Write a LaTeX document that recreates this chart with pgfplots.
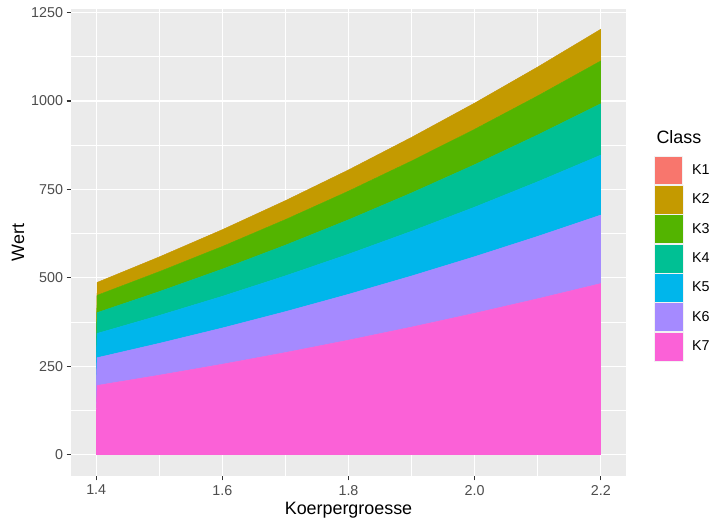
\documentclass[border=0pt]{standalone}
\usepackage{pgfplots}
\usepackage{pgfplotstable}
\pgfplotsset{compat=1.18}
\usepackage{fontspec}
\setmainfont{Liberation Sans}
\definecolor{k1}{HTML}{F8766D}
\definecolor{k2}{HTML}{C49A00}
\definecolor{k3}{HTML}{53B400}
\definecolor{k4}{HTML}{00C094}
\definecolor{k5}{HTML}{00B6EB}
\definecolor{k6}{HTML}{A58AFF}
\definecolor{k7}{HTML}{FB61D7}
\definecolor{panelbg}{HTML}{EBEBEB}
\definecolor{keybg}{HTML}{F2F2F2}
\definecolor{ticklab}{HTML}{4D4D4D}
\definecolor{tickcol}{HTML}{333333}
\pgfplotstableread{
x      K7    K6     K5     K4     K3     K2    K1
1.4    127   80     62     5      26     24    0
1.4015 196   78.4   68.6   58.8   49     36.3  0
1.5    225   90     78.8   67.5   56.3   41.6  0
1.6    256   102.4  89.6   76.8   64     47.4  0
1.7    289   115.6  101.2  86.7   72.3   53.5  0
1.8    324   129.6  113.4  97.2   81     59.9  0
1.9    361   144.4  126.4  108.3  90.3   66.8  0
2.0    400   160    140    120    100    74    0
2.1    441   176.4  154.4  132.3  110.3  81.6  0
2.2    484   193.6  169.4  145.2  121    89.5  0
}\data
\begin{document}
\begin{tikzpicture}
\path[fill=white] (0,0) rectangle (728pt,530pt);
\begin{axis}[
  at={(71pt,54pt)}, anchor=south west,
  scale only axis, width=555pt, height=467pt,
  xmin=1.36, xmax=2.24, ymin=-60, ymax=1260,
  axis background/.style={fill=panelbg},
  axis line style={draw=none},
  xtick={1.4,1.6,1.8,2.0,2.2},
  minor xtick={1.5,1.7,1.9,2.1},
  ytick={0,250,500,750,1000,1250},
  minor ytick={125,375,625,875,1125},
  grid=both,
  major grid style={white, line width=1.1pt},
  minor grid style={white, line width=0.55pt},
  tick pos=left, tick align=outside,
  major tick length=4.5pt, minor tick length=0pt,
  every tick/.style={tickcol, line width=1.1pt},
  /pgf/number format/assume math mode=true,
  xticklabel style={font=\fontsize{14.3}{17}\selectfont, text=ticklab, yshift=-1pt, /pgf/number format/fixed, /pgf/number format/fixed zerofill, /pgf/number format/precision=1},
  yticklabel style={font=\fontsize{14.3}{17}\selectfont, text=ticklab, /pgf/number format/set thousands separator={}},
  xlabel={Koerpergroesse}, ylabel={Wert},
  xlabel style={font=\fontsize{17.9}{21}\selectfont, at={(axis description cs:0.5,-0.0728)}, anchor=center},
  ylabel style={font=\fontsize{17.9}{21}\selectfont, at={(axis description cs:-0.0955,0.5)}, anchor=center},
  stack plots=y,
  reverse legend,
  legend cell align=left,
  legend image code/.code={
    \fill[keybg] (0pt,-14.5pt) rectangle (29pt,14.5pt);
    \fill[#1] (1pt,-13.5pt) rectangle (28pt,13.5pt);
  },
  legend style={at={(1.0505,0.6863)}, anchor=north west, draw=none, fill=none,
    font=\fontsize{14.3}{17}\selectfont, row sep=0pt, inner sep=0pt,
    nodes={inner sep=0pt},
    /tikz/every odd column/.append style={column sep=8.5pt}},
]
\addplot[draw=k7, line width=0.4pt, fill=k7] table[x=x, y=K7]{\data} \closedcycle;
\addplot[draw=k6, line width=0.4pt, fill=k6] table[x=x, y=K6]{\data} \closedcycle;
\addplot[draw=k5, line width=0.4pt, fill=k5] table[x=x, y=K5]{\data} \closedcycle;
\addplot[draw=k4, line width=0.4pt, fill=k4] table[x=x, y=K4]{\data} \closedcycle;
\addplot[draw=k3, line width=0.4pt, fill=k3] table[x=x, y=K3]{\data} \closedcycle;
\addplot[draw=k2, line width=0.4pt, fill=k2] table[x=x, y=K2]{\data} \closedcycle;
\addplot[draw=none, fill=k1] table[x=x, y=K1]{\data} \closedcycle;
\legend{K7,K6,K5,K4,K3,K2,K1}
\end{axis}
\node[anchor=base west, font=\fontsize{17.9}{21}\selectfont] at (653pt,386pt) {Class};
\end{tikzpicture}
\end{document}
